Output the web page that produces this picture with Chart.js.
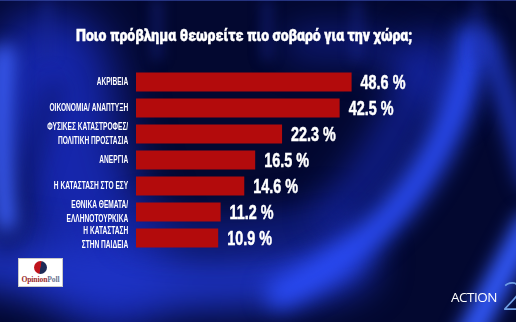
<!DOCTYPE html>
<html>
<head>
<meta charset="utf-8">
<script src="https://cdn.jsdelivr.net/npm/chart.js@4.4.1/dist/chart.umd.min.js"></script>
<style>
  html, body { margin: 0; padding: 0; }
  body { width: 516px; height: 322px; overflow: hidden; position: relative; background: #03072e; }
  #chart { position: absolute; left: 0; top: 0; z-index: 0; }
  #title {
    position: absolute; left: 76px; top: 27px; color: #ffffff; z-index: 2;
    font-family: Roboto, "Open Sans", sans-serif; font-weight: 900; font-size: 16px; line-height: 1.17;
    white-space: nowrap; transform: scaleX(0.878); transform-origin: 0 0;
    -webkit-text-stroke: 0.4px #ffffff;
  }
  #opinion {
    position: absolute; left: 18px; top: 258px; width: 45px; height: 29px; z-index: 2;
    background: #ffffff; border: 1px solid #c9c9c9; box-sizing: border-box;
  }
  #opinion .dot {
    position: absolute; left: 15px; top: 2px; width: 13px; height: 13px; border-radius: 50%;
    background: linear-gradient(100deg, #c0141c 0%, #c0141c 48%, #1d2a57 52%, #1d2a57 100%);
  }
  #opinion .txt {
    position: absolute; left: 0px; top: 16px; width: 43px; text-align: center;
    font-family: "Liberation Serif", serif; font-size: 7.6px; font-weight: 700; white-space: nowrap;
    letter-spacing: -0.1px;
  }
  #action {
    position: absolute; left: 451px; top: 288px; color: #ffffff; z-index: 2;
    font-family: "Open Sans", sans-serif; font-weight: 400; font-size: 13.5px; letter-spacing: -0.5px;
  }
  #action24 {
    position: absolute; left: 502px; top: 276px; color: #6f9fe6; z-index: 2;
    font-family: "Open Sans", sans-serif; font-weight: 300; font-size: 38px; line-height: 1;
  }
</style>
</head>
<body>
<canvas id="chart" width="516" height="322"></canvas>
<div id="title">Ποιο πρόβλημα θεωρείτε πιο σοβαρό για την χώρα;</div>
<div id="opinion"><div class="dot"></div><div class="txt"><span style="color:#9a2a2a">Opinion</span><span style="color:#6a7290">Poll</span></div></div>
<div id="action">ACTION</div>
<div id="action24">2</div>
<script>
// Survey answers, top to bottom
const categories = [
  'ΑΚΡΙΒΕΙΑ',
  'ΟΙΚΟΝΟΜΙΑ/ ΑΝΑΠΤΥΞΗ',
  ['ΦΥΣΙΚΕΣ ΚΑΤΑΣΤΡΟΦΕΣ/', 'ΠΟΛΙΤΙΚΗ ΠΡΟΣΤΑΣΙΑ'],
  'ΑΝΕΡΓΙΑ',
  'Η ΚΑΤΑΣΤΑΣΗ ΣΤΟ ΕΣΥ',
  ['ΕΘΝΙΚΑ ΘΕΜΑΤΑ/', 'ΕΛΛΗΝΟΤΟΥΡΚΙΚΑ'],
  ['Η ΚΑΤΑΣΤΑΣΗ', 'ΣΤΗΝ ΠΑΙΔΕΙΑ']
];
// Share of respondents, percent
const percentages = [48.6, 42.5, 22.3, 16.5, 14.6, 11.2, 10.9];

const sans = '"Liberation Sans", Arial, sans-serif';

// Studio backdrop: navy field with soft blue light streaks
const backdrop = {
  id: 'backdrop',
  beforeDraw(chart) {
    const ctx = chart.ctx;
    const w = chart.width, h = chart.height;
    ctx.save();
    ctx.fillStyle = '#030830';
    ctx.fillRect(0, 0, w, h);
    const stroke = (pts, width, color, blur) => {
      ctx.filter = 'blur(' + blur + 'px)';
      ctx.strokeStyle = color;
      ctx.lineWidth = width;
      ctx.lineCap = 'round';
      ctx.beginPath();
      ctx.moveTo(pts[0], pts[1]);
      ctx.bezierCurveTo(pts[2], pts[3], pts[4], pts[5], pts[6], pts[7]);
      ctx.stroke();
    };
    // broad haze on the left and below the bars
    stroke([50, 70, 60, 150, 80, 220, 110, 270], 120, 'rgba(24,42,185,0.9)', 24);
    stroke([-30, 255, 90, 285, 240, 295, 345, 262], 60, 'rgba(30,52,200,0.9)', 18);
    stroke([140, 225, 200, 235, 260, 235, 330, 218], 34, 'rgba(22,38,165,0.6)', 16);
    // darker diagonal streak on the far left
    stroke([55, 90, 35, 140, 20, 190, 5, 250], 18, 'rgba(8,14,80,0.55)', 12);
    // left edge glow
    stroke([4, 55, 0, 120, 0, 170, 6, 220], 22, 'rgba(60,95,250,0.95)', 9);
    // ring of light around the top right
    stroke([300, 45, 360, 35, 420, 55, 445, 100], 30, 'rgba(24,44,190,0.55)', 18);
    stroke([430, 50, 410, 110, 380, 170, 340, 210], 40, 'rgba(26,46,205,0.6)', 18);
    // main sweeping arc on the right
    stroke([472, 38, 458, 150, 392, 242, 280, 294], 30, 'rgba(42,75,245,1)', 11);
    // far right streaks
    stroke([488, 45, 505, 90, 515, 130, 530, 180], 20, 'rgba(36,64,220,0.8)', 10);
    stroke([465, 345, 488, 300, 505, 268, 528, 225], 26, 'rgba(50,88,250,1)', 9);
    // faint vertical streaks along the top
    ctx.filter = 'blur(6px)';
    ctx.fillStyle = 'rgba(25,40,150,0.35)';
    [40, 150, 260, 350, 470].forEach(x => ctx.fillRect(x, 0, 14, 60));
    ctx.filter = 'none';
    ctx.fillStyle = 'rgba(60,80,180,0.6)';
    ctx.fillRect(0, 0, w, 1);
    ctx.restore();
  }
};

// Writes "xx.x %" to the right of each bar
const valueLabels = {
  id: 'valueLabels',
  afterDatasetsDraw(chart) {
    const ctx = chart.ctx;
    const meta = chart.getDatasetMeta(0);
    ctx.save();
    ctx.fillStyle = '#ffffff';
    ctx.strokeStyle = '#ffffff';
    ctx.lineWidth = 0.5;
    ctx.font = 'bold 20px ' + sans;
    ctx.textAlign = 'left';
    ctx.textBaseline = 'middle';
    meta.data.forEach((bar, i) => {
      const v = chart.data.datasets[0].data[i];
      const text = v.toFixed(1) + ' %';
      ctx.save();
      ctx.translate(bar.x + 9, bar.y + 1);
      ctx.scale(0.72, 1);
      ctx.fillText(text, 0, 0);
      ctx.strokeText(text, 0, 0);
      ctx.restore();
    });
    ctx.restore();
  }
};

// Category labels use a condensed face: squeeze the y axis labels horizontally
const SQUEEZE = 0.6;
const condensedTicks = {
  id: 'condensedTicks',
  afterLayout(chart) {
    const scale = chart.scales.y;
    if (scale._condensed) return;
    scale._condensed = true;
    const draw = scale.drawLabels.bind(scale);
    scale.drawLabels = function (area) {
      const ctx = chart.ctx;
      const ax = scale.right - scale.options.ticks.padding;
      const left = scale.left;
      // widen the label clip box so it still covers the axis area after squeezing
      scale.left = ax - (ax - left) / SQUEEZE;
      ctx.save();
      ctx.translate(ax, 0);
      ctx.scale(SQUEEZE, 1);
      ctx.translate(-ax, 0);
      draw(area);
      ctx.restore();
      scale.left = left;
    };
  }
};

new Chart(document.getElementById('chart'), {
  type: 'bar',
  data: {
    labels: categories,
    datasets: [{
      data: percentages,
      backgroundColor: '#b30b0c',
      borderWidth: 0,
      barPercentage: 0.73,
      categoryPercentage: 1.0
    }]
  },
  options: {
    indexAxis: 'y',
    responsive: false,
    animation: false,
    events: [],
    layout: { padding: { left: 0, right: 100, top: 69, bottom: 71 } },
    plugins: { legend: { display: false }, tooltip: { enabled: false } },
    scales: {
      x: {
        type: 'logarithmic',
        min: 4.34,
        max: 100,
        bounds: 'data',
        display: false
      },
      y: {
        grid: { display: false },
        border: { display: false },
        afterFit(scale) { scale.width = 136; },
        ticks: {
          color: '#ffffff',
          padding: 3,
          autoSkip: false,
          font: { family: sans, size: 11, weight: 'bold', lineHeight: 1.2 }
        }
      }
    }
  },
  plugins: [backdrop, condensedTicks, valueLabels]
});
</script>
</body>
</html>
